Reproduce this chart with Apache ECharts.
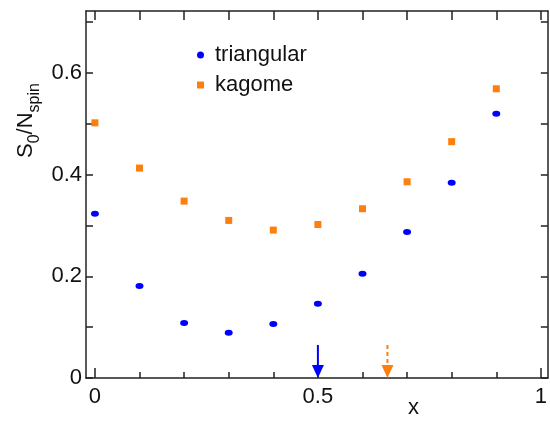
<!DOCTYPE html>
<html><head><meta charset="utf-8">
<script src="https://cdn.jsdelivr.net/npm/echarts@6/dist/echarts.min.js"></script>
<style>html,body{margin:0;padding:0;background:#fff}#c{width:550px;height:423px}</style>
</head><body><div id="c"></div>
<script>
const xValues = [0, 0.1, 0.2, 0.3, 0.4, 0.5, 0.6, 0.7, 0.8, 0.9];
const triangular = [0.323, 0.181, 0.108, 0.089, 0.106, 0.146, 0.205, 0.287, 0.384, 0.520];
const kagome = [0.502, 0.413, 0.348, 0.310, 0.291, 0.302, 0.333, 0.386, 0.465, 0.569];
const arrowX = [0.5, 0.656];
const arrowTop = [0.065, 0.065];
const arrowColors = ['#0000ff', '#ff7f0e'];
const arrowDashed = [false, true];
const xMinorTicks = [0, 0.1, 0.2, 0.3, 0.4, 0.5, 0.6, 0.7, 0.8, 0.9, 1];
const xMajorTicks = [0, 0.5, 1];
const yTicks = [0, 0.1, 0.2, 0.3, 0.4, 0.5, 0.6, 0.7];
const yLabels = [0, 0.2, 0.4, 0.6];

const FONT = 'Liberation Sans, Arial, sans-serif';
const chart = echarts.init(document.getElementById('c'));
const xBase = {
  type: 'value', min: -0.02, max: 1.0156,
  splitLine: {show: false},
  axisLine: {onZero: false, lineStyle: {color: '#222', width: 1.5}},
};
const yBase = {
  type: 'value', min: 0, max: 0.722,
  splitLine: {show: false},
  axisLine: {show: true, onZero: false, lineStyle: {color: '#222', width: 1.5}},
};
chart.setOption({
  animation: false,
  grid: {left: 86, top: 11, width: 465, height: 367, containLabel: false},
  legend: {
    orient: 'vertical', left: 192, top: 39, itemGap: 8,
    itemWidth: 7, itemHeight: 7,
    textStyle: {fontFamily: FONT, fontSize: 22, color: '#111', padding: [0, 0, 0, 6]},
    data: [
      {name: 'triangular', icon: 'circle', itemStyle: {color: '#0000ff'}},
      {name: 'kagome', icon: 'rect', itemStyle: {color: '#ff7f0e'}}
    ]
  },
  xAxis: [
    Object.assign({}, xBase, {
      position: 'bottom',
      axisTick: {inside: true, length: 6, customValues: xMinorTicks, lineStyle: {color: '#222', width: 1.5}},
      axisLabel: {customValues: xMajorTicks, fontFamily: FONT, fontSize: 22, color: '#111', margin: 8,
        formatter: v => String(v)}
    }),
    Object.assign({}, xBase, {
      position: 'bottom', axisLine: {show: false},
      axisTick: {inside: true, length: 10, customValues: xMajorTicks, lineStyle: {color: '#222', width: 1.5}},
      axisLabel: {show: false}
    }),
    Object.assign({}, xBase, {
      position: 'top',
      axisTick: {inside: true, length: 9, customValues: xMinorTicks, lineStyle: {color: '#222', width: 1.5}},
      axisLabel: {show: false}
    })
  ],
  yAxis: [
    Object.assign({}, yBase, {
      position: 'left',
      axisTick: {inside: true, length: 7, customValues: yTicks, lineStyle: {color: '#222', width: 1.5}},
      axisLabel: {customValues: yLabels, fontFamily: FONT, fontSize: 22, color: '#111', margin: 4,
        formatter: v => String(v)}
    }),
    Object.assign({}, yBase, {
      position: 'right',
      axisTick: {inside: true, length: 7, customValues: yTicks, lineStyle: {color: '#222', width: 1.5}},
      axisLabel: {show: false}
    })
  ],
  graphic: [
    {type: 'text', left: 408, top: 397,
      style: {text: 'x', font: '22px ' + FONT, fill: '#111'}},
    {type: 'text', x: 11, y: 158, rotation: Math.PI / 2,
      style: {
        text: '{b|S}{s|0}{b|/N}{s|spin}',
        rich: {
          b: {fontFamily: FONT, fontSize: 22, fill: '#111', verticalAlign: 'bottom', lineHeight: 26},
          s: {fontFamily: FONT, fontSize: 16, fill: '#111', verticalAlign: 'bottom', lineHeight: 20, padding: [0,0,-6,0]}
        }
      }, originX: 0, originY: 0}
  ],
  series: [
    {name: 'triangular', type: 'scatter', symbol: 'circle', symbolSize: [8, 6],
      itemStyle: {color: '#0000ff', opacity: 1},
      data: xValues.map((x, i) => [x, triangular[i]])},
    {name: 'kagome', type: 'scatter', symbol: 'rect', symbolSize: 7,
      itemStyle: {color: '#ff7f0e', opacity: 1},
      data: xValues.map((x, i) => [x, kagome[i]])},
    {type: 'custom', name: 'arrows', silent: true,
      data: arrowX.map((x, i) => [x, arrowTop[i], i]),
      renderItem: (params, api) => {
        const i = api.value(2);
        const top = api.coord([api.value(0), api.value(1)]);
        const bot = api.coord([api.value(0), 0]);
        const headH = 13, headW = 12;
        return {type: 'group', children: [
          {type: 'line', shape: {x1: top[0], y1: top[1], x2: bot[0], y2: bot[1] - headH + 1},
            style: {stroke: arrowColors[i], lineWidth: 2, lineDash: arrowDashed[i] ? [4, 3] : null}},
          {type: 'polygon', shape: {points: [[bot[0] - headW / 2, bot[1] - headH], [bot[0] + headW / 2, bot[1] - headH], [bot[0], bot[1]]]},
            style: {fill: arrowColors[i]}}
        ]};
      }}
  ]
});
</script></body></html>
